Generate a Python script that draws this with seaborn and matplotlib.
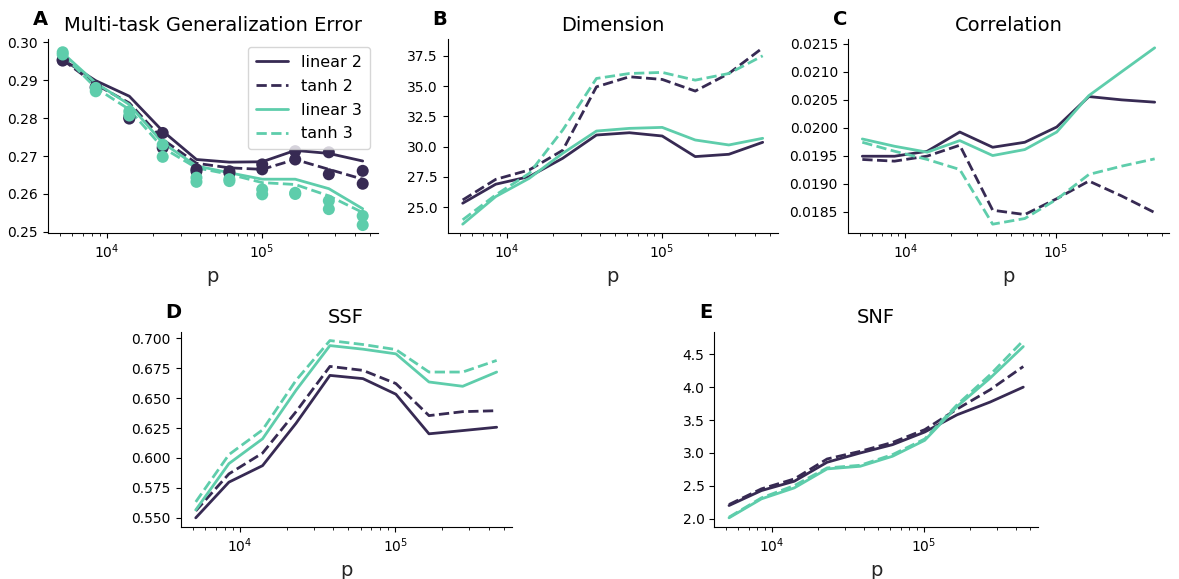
import numpy as np
import pandas as pd
import matplotlib
matplotlib.use("Agg")
import matplotlib.pyplot as plt
from matplotlib.ticker import MultipleLocator, FormatStrFormatter
import seaborn as sns

# sample counts p
p = [5200, 8500, 14000, 23000, 38000, 62000, 101000, 165000, 272000, 450000]

# multi-task generalization error (curves)
err_lin2 = [0.2955, 0.2899, 0.2858, 0.2766, 0.2691, 0.2684, 0.2685, 0.2715, 0.2707, 0.2687]
err_tanh2 = [0.2954, 0.2889, 0.2840, 0.2744, 0.2681, 0.2669, 0.2665, 0.2691, 0.2665, 0.2639]
err_lin3 = [0.2972, 0.2893, 0.2836, 0.2735, 0.2674, 0.2656, 0.2639, 0.2639, 0.2614, 0.2561]
err_tanh3 = [0.2968, 0.2880, 0.2823, 0.2722, 0.2669, 0.2652, 0.2630, 0.2625, 0.2595, 0.2551]

# multi-task generalization error (simulations)
sim_lin2 = [0.2954, 0.2883, 0.2799, 0.2761, 0.2665, 0.2660, 0.2678, 0.2713, 0.2710, 0.2661]
sim_tanh2 = [0.2952, 0.2880, 0.2803, 0.2722, 0.2660, 0.2655, 0.2665, 0.2691, 0.2652, 0.2627]
sim_lin3 = [0.2974, 0.2880, 0.2818, 0.2730, 0.2643, 0.2639, 0.2612, 0.2603, 0.2582, 0.2542]
sim_tanh3 = [0.2968, 0.2871, 0.2807, 0.2698, 0.2632, 0.2634, 0.2599, 0.2600, 0.2560, 0.2518]

# dimension
dim_lin2 = [25.33, 26.90, 27.53, 29.04, 30.96, 31.15, 30.88, 29.18, 29.37, 30.36]
dim_tanh2 = [25.60, 27.30, 28.08, 29.70, 34.94, 35.77, 35.55, 34.59, 36.04, 38.16]
dim_lin3 = [23.60, 25.88, 27.39, 29.45, 31.29, 31.51, 31.59, 30.55, 30.14, 30.69]
dim_tanh3 = [23.96, 26.02, 27.80, 31.37, 35.63, 36.04, 36.13, 35.49, 36.04, 37.50]

# correlation
cor_lin2 = [0.019488, 0.019488, 0.019577, 0.019920, 0.019648, 0.019737, 0.020010, 0.020553, 0.020494, 0.020453]
cor_tanh2 = [0.019430, 0.019400, 0.019490, 0.019684, 0.018524, 0.018447, 0.018730, 0.019045, 0.018778, 0.018482]
cor_lin3 = [0.019796, 0.019666, 0.019560, 0.019767, 0.019500, 0.019607, 0.019920, 0.020571, 0.020997, 0.021423]
cor_tanh3 = [0.019737, 0.019577, 0.019430, 0.019251, 0.018275, 0.018376, 0.018719, 0.019163, 0.019311, 0.019441]

# SSF
ssf_lin2 = [0.5500, 0.5798, 0.5936, 0.6290, 0.6690, 0.6663, 0.6533, 0.6202, 0.6229, 0.6257]
ssf_tanh2 = [0.5558, 0.5867, 0.6041, 0.6387, 0.6765, 0.6732, 0.6622, 0.6354, 0.6387, 0.6395]
ssf_lin3 = [0.5566, 0.5953, 0.6160, 0.6566, 0.6939, 0.6909, 0.6870, 0.6635, 0.6599, 0.6718]
ssf_tanh3 = [0.5633, 0.6028, 0.6235, 0.6649, 0.6981, 0.6948, 0.6906, 0.6718, 0.6718, 0.6815]

# SNF
snf_lin2 = [2.202, 2.429, 2.571, 2.859, 3.000, 3.126, 3.318, 3.580, 3.773, 4.000]
snf_tanh2 = [2.217, 2.455, 2.606, 2.909, 3.025, 3.160, 3.354, 3.667, 3.960, 4.313]
snf_lin3 = [2.015, 2.303, 2.470, 2.758, 2.798, 2.950, 3.192, 3.707, 4.136, 4.616]
snf_tanh3 = [2.025, 2.318, 2.505, 2.773, 2.813, 2.975, 3.212, 3.732, 4.187, 4.707]

labels = ["linear 2", "tanh 2", "linear 3", "tanh 3"]

sns.set_style("ticks")
plt.rcParams["font.family"] = ["DejaVu Sans"]
plt.rcParams["text.color"] = "black"
plt.rcParams["xtick.color"] = "black"
plt.rcParams["ytick.color"] = "black"
plt.rcParams["axes.edgecolor"] = "black"

DARK = "#372a53"
TEAL = "#5ecdab"
styles = [(DARK, "-"), (DARK, "--"), (TEAL, "-"), (TEAL, "--")]

W, H = 1179, 579
fig = plt.figure(figsize=(W / 100, H / 100), dpi=100)


def px_axes(left, top, right, bottom):
    return fig.add_axes([left / W, (H - bottom) / H, (right - left) / W, (bottom - top) / H])


axA = px_axes(47.7, 39, 377.7, 233)
axB = px_axes(447.7, 39, 777.7, 233)
axC = px_axes(847.7, 39, 1169.3, 233)
axD = px_axes(180.7, 331.7, 511.7, 526.7)
axE = px_axes(714.3, 331.7, 1038, 526.7)

panels = [
    (axA, "A", "Multi-task Generalization Error", [err_lin2, err_tanh2, err_lin3, err_tanh3]),
    (axB, "B", "Dimension", [dim_lin2, dim_tanh2, dim_lin3, dim_tanh3]),
    (axC, "C", "Correlation", [cor_lin2, cor_tanh2, cor_lin3, cor_tanh3]),
    (axD, "D", "SSF", [ssf_lin2, ssf_tanh2, ssf_lin3, ssf_tanh3]),
    (axE, "E", "SNF", [snf_lin2, snf_tanh2, snf_lin3, snf_tanh3]),
]

for ax, letter, title, series in panels:
    for vals, lab, (col, ls) in zip(series, labels, styles):
        sns.lineplot(x=p, y=vals, ax=ax, color=col, linestyle=ls, linewidth=2, legend=False)
    if ax is axA:
        for sim in [sim_lin2, sim_tanh2]:
            sns.scatterplot(x=p, y=sim, ax=ax, color=DARK, s=75, edgecolor="none", zorder=3)
        for sim in [sim_lin3, sim_tanh3]:
            sns.scatterplot(x=p, y=sim, ax=ax, color=TEAL, s=75, edgecolor="none", zorder=4)
    ax.set_xscale("log")
    ax.set_title(title, fontsize=14)
    ax.set_xlabel("p", fontsize=14)
    ax.set_ylabel("")
    ax.tick_params(labelsize=10)
    sns.despine(ax=ax)
    bb = ax.get_position()
    fig.text(bb.x0 - 15 / W, bb.y1 + 10 / H, letter, fontsize=14, fontweight="bold",
             ha="left", va="bottom")

axA.set_ylim(0.2497, 0.3009)
axA.yaxis.set_major_locator(MultipleLocator(0.01))
axA.yaxis.set_major_formatter(FormatStrFormatter("%.2f"))
axB.yaxis.set_major_locator(MultipleLocator(2.5))
axB.yaxis.set_major_formatter(FormatStrFormatter("%.1f"))
axC.yaxis.set_major_locator(MultipleLocator(0.0005))
axC.yaxis.set_major_formatter(FormatStrFormatter("%.4f"))
axD.yaxis.set_major_locator(MultipleLocator(0.025))
axD.yaxis.set_major_formatter(FormatStrFormatter("%.3f"))
axE.yaxis.set_major_locator(MultipleLocator(0.5))
axE.yaxis.set_major_formatter(FormatStrFormatter("%.1f"))

handles = [plt.Line2D([], [], color=c, linestyle=ls, linewidth=2) for c, ls in styles]
axA.legend(handles, labels, loc="upper right", fontsize=11.5, frameon=True,
           handlelength=2.0, borderpad=0.5, labelspacing=0.55,
           bbox_to_anchor=(1.0, 1.0), borderaxespad=0.5)

fig.savefig("out.png", dpi=100)
